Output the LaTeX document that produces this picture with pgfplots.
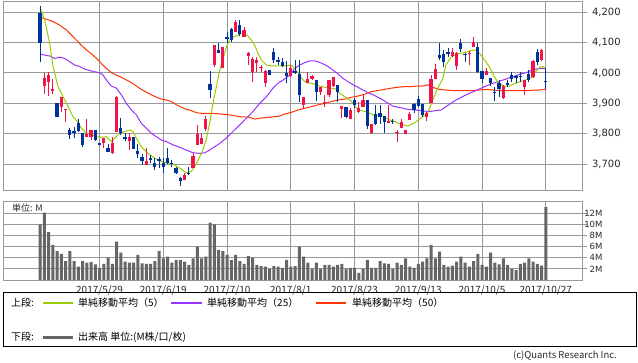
\documentclass[border=0pt]{standalone}
\usepackage{fontspec}
\setmainfont{Noto Sans CJK JP}
\newfontfamily\dejavu{DejaVu Sans}
\usepackage{pgfplots}
\usepackage{pgfplotstable}
\pgfplotsset{compat=1.18}
\definecolor{upred}{RGB}{240,20,75}
\definecolor{downblue}{RGB}{0,51,153}
\definecolor{maG}{RGB}{153,204,0}
\definecolor{maP}{RGB}{153,51,255}
\definecolor{maR}{RGB}{255,51,0}
\definecolor{gridgray}{RGB}{153,153,153}
\definecolor{volgray}{RGB}{102,102,102}
\definecolor{txt}{RGB}{40,40,40}

% up candles: i, body low (open), body high (close), low, high
\pgfplotstableread{
i lo hi l h
1 3957 3982 3931 4001
2 3971 3993 3925 4004
3 3940 3946 3931 3980
5 3889 3920 3873 3922
6 3878 3882 3840 3882
11 3790 3798 3788 3848
12 3790 3812 3779 3812
15 3768 3785 3752 3785
17 3735 3768 3733 3790
18 3807 3920 3807 3924
21 3777 3790 3746 3803
25 3697 3710 3697 3752
34 3647 3664 3647 3671
36 3688 3726 3686 3735
37 3763 3799 3763 3827
38 3766 3787 3766 3801
39 3814 3848 3810 3858
41 4026 4092 4021 4092
43 4015 4087 4015 4087
46 4136 4167 4136 4173
48 4120 4140 4120 4153
49 4056 4065 4026 4070
50 4004 4045 3971 4052
51 4032 4043 4004 4054
52 4015 4021 4004 4026
53 3968 4008 3953 4010
59 3990 4015 3988 4026
62 3895 3920 3880 3922
63 3966 3979 3966 4004
64 3980 3991 3977 3993
66 3938 3953 3927 3953
67 3900 3905 3889 3927
68 3927 3977 3922 3977
69 3957 3986 3955 3986
71 3880 3891 3851 3891
73 3848 3878 3848 3884
75 3873 3884 3867 3905
76 3889 3911 3889 3927
78 3803 3832 3798 3832
82 3836 3843 3834 3895
84 3801 3806 3774 3812
85 3818 3840 3818 3847
86 3798 3812 3798 3812
87 3845 3865 3845 3873
91 3854 3867 3843 3873
92 3902 3979 3902 3993
93 3979 4013 3979 4030
97 4056 4070 4054 4081
98 4024 4065 4010 4070
101 4063 4067 4026 4074
102 4087 4103 4087 4117
105 3993 4007 3993 4015
109 3916 3957 3913 3960
114 3953 3977 3927 3977
116 3988 4040 3982 4043
118 4043 4076 4041 4078
}\upcandles

% down candles: i, body low (close), body high (open), low, high
\pgfplotstableread{
i lo hi l h
0 4098 4199 4037 4221
4 3856 3900 3855 3902
7 3796 3812 3784 3818
8 3803 3809 3787 3823
9 3810 3836 3807 3847
10 3763 3801 3757 3803
13 3779 3812 3777 3812
14 3764 3770 3764 3770
16 3741 3752 3741 3766
19 3801 3820 3796 3851
20 3781 3788 3777 3801
22 3751 3790 3751 3790
23 3733 3744 3719 3766
24 3711 3724 3697 3733
26 3713 3720 3702 3730
27 3691 3702 3680 3719
28 3711 3718 3686 3724
29 3689 3702 3669 3719
30 3702 3719 3700 3752
31 3700 3704 3689 3713
32 3669 3686 3667 3691
33 3645 3655 3629 3658
35 3668 3671 3664 3691
40 3944 3964 3919 4007
42 4067 4076 4067 4098
44 4111 4118 4100 4136
45 4109 4144 4103 4147
47 4128 4158 4122 4173
54 3993 4010 3993 4010
55 4043 4070 4032 4081
56 4037 4043 4026 4052
57 4023 4037 4021 4048
58 3990 4001 3966 4040
60 4001 4008 3997 4043
61 3927 3997 3905 4043
65 3938 3977 3909 3977
70 3938 3960 3905 3960
72 3856 3889 3851 3889
74 3895 3911 3884 3916
77 3825 3911 3814 3911
79 3831 3865 3829 3895
80 3856 3867 3832 3895
81 3840 3858 3803 3858
83 3838 3843 3832 3847
88 3878 3898 3867 3902
89 3891 3913 3889 3924
90 3862 3898 3856 3898
94 4048 4059 4043 4100
95 4037 4063 4021 4076
96 4063 4070 4054 4081
99 4078 4098 4070 4111
100 4059 4063 4037 4067
103 4004 4087 4001 4100
104 3981 4008 3968 4008
106 3968 3982 3957 3982
107 3933 3938 3909 3953
108 3946 3968 3922 3977
110 3960 3966 3955 3977
111 3979 3992 3971 4004
112 3982 3990 3966 3993
113 3986 3990 3971 4004
115 3977 3997 3971 4010
117 4037 4070 4026 4078
119 3970 3974 3947 4015
}\downcandles

\pgfplotstableread{
i v
0 10.0
1 12.1
2 8.6
3 6.3
4 5.2
5 4.7
6 3.4
7 5.2
8 3.4
9 2.4
10 3.4
11 3.1
12 3.2
13 2.8
14 2.2
15 2.9
16 4.0
17 2.9
18 6.9
19 4.9
20 3.3
21 3.1
22 3.1
23 4.5
24 3.0
25 2.9
26 2.9
27 3.4
28 5.2
29 3.9
30 4.2
31 3.1
32 3.6
33 3.6
34 3.3
35 2.7
36 3.9
37 6.0
38 3.9
39 4.2
40 10.3
41 10.0
42 5.4
43 5.2
44 4.5
45 3.6
46 4.5
47 3.4
48 2.9
49 4.3
50 4.0
51 2.7
52 2.5
53 2.4
54 2.0
55 2.5
56 2.4
57 2.2
58 3.6
59 2.4
60 2.5
61 6.0
62 4.2
63 3.1
64 2.0
65 3.1
66 2.0
67 2.7
68 2.7
69 2.4
70 2.7
71 2.9
72 2.0
73 2.2
74 2.2
75 1.3
76 2.0
77 3.6
78 2.2
79 2.2
80 3.4
81 3.0
82 2.9
83 2.0
84 3.1
85 2.7
86 3.9
87 2.4
88 2.2
89 2.9
90 3.3
91 3.9
92 6.3
93 3.9
94 5.1
95 2.7
96 2.4
97 2.6
98 3.3
99 4.2
100 3.1
101 2.4
102 3.4
103 4.7
104 2.7
105 2.4
106 4.9
107 3.1
108 2.8
109 3.9
110 2.7
111 2.0
112 1.8
113 2.9
114 3.1
115 3.9
116 3.3
117 2.9
118 2.6
119 13.1
}\volumes

\pgfplotsset{
  chartbase/.style={
    anchor=north west, scale only axis, width=579pt,
    xmin=-8.71, xmax=127.53,
    xtick={14,29,44,59,74,89,104,119},
    grid=major,
    major grid style={gridgray, line width=1pt},
    axis line style={gridgray, line width=1pt},
    xtick style={draw=none},
    ytick pos=right, yticklabel pos=right,
    tick align=outside, major tick length=5pt,
    ytick style={gridgray, line width=1pt},
  },
}

\begin{document}
\begin{tikzpicture}
\path[use as bounding box] (0pt,0pt) rectangle (638pt,-362pt);

% ---------- price panel ----------
\begin{axis}[chartbase,
  at={(3pt,-1pt)}, height=189pt,
  ymin=3614.3, ymax=4237.2,
  ytick={3700,3800,3900,4000,4100,4200},
  xticklabels={},
  yticklabel style={font=\dejavu\fontsize{10}{12}\selectfont, text=txt, anchor=west, xshift=1.5pt},
  /pgf/number format/1000 sep={,},
  /pgf/number format/assume math mode=true,
]
\addplot[maR, line width=1pt, mark=none] coordinates {
(0,4184) (1.5,4177) (3.1,4169) (4.6,4158) (6.2,4142) (7.4,4125) (8.5,4109) (9.7,4092)
(10.9,4076) (12.1,4063) (13.3,4048) (14.4,4032) (15.6,4015) (16.8,4001) (18.0,3993)
(19.1,3986) (20.3,3977) (21.5,3968) (22.7,3957) (23.8,3946) (25.0,3937) (26.2,3928)
(27.4,3920) (28.5,3914) (29.7,3911) (30.9,3906) (32.1,3895) (33.3,3887) (34.4,3880)
(35.6,3876) (36.8,3869) (38.0,3867) (39.1,3867) (40.7,3867) (42.3,3865) (44.6,3862)
(47.0,3856) (49.3,3854) (50.5,3848) (51.7,3851) (54.0,3854) (56.4,3858) (57.6,3865)
(59.1,3870) (60.7,3878) (62.3,3884) (63.9,3889) (65.4,3895) (67.0,3900) (68.6,3906)
(70.1,3911) (71.7,3914) (73.3,3920) (74.8,3924) (76.4,3930) (78.0,3939) (79.5,3942)
(81.1,3946) (82.7,3950) (84.2,3953) (85.8,3955) (87.4,3955) (88.5,3957) (90.0,3957)
(91.2,3961) (92.4,3953) (93.9,3946) (95.5,3944) (97.1,3942) (101.8,3942) (105.0,3946)
(108.1,3942) (114.4,3942) (117.5,3944) (119,3946)
};
\addplot[maP, line width=1pt, mark=none] coordinates {
(0,4062) (1.1,4059) (2.27,4056) (3.45,4048) (4.63,4052) (5.8,4048) (6.98,4037) (8.16,4026)
(9.33,4021) (10.5,4013) (11.69,4008) (12.86,4004) (14.04,4001) (14.82,3993) (15.6,3977)
(16.78,3957) (17.96,3950) (19.14,3928) (20.31,3900) (21.49,3878) (22.67,3862) (23.84,3834)
(25.02,3818) (26.2,3801) (27.37,3790) (28.55,3779) (29.7,3774) (31.3,3763) (32.9,3755)
(34.4,3746) (36.0,3737) (37.6,3735) (38.8,3737) (39.9,3746) (41.1,3757) (42.3,3768)
(43.8,3785) (45.4,3807) (47.0,3829) (48.6,3851) (50.1,3873) (51.7,3900) (53.3,3922)
(54.8,3950) (56.0,3966) (57.2,3977) (58.8,3993) (59.9,4015) (61.1,4026) (62.3,4034)
(63.5,4040) (64.6,4040) (65.4,4037) (66.6,4030) (67.8,4021) (68.9,4010) (70.1,3997)
(71.3,3982) (72.5,3971) (73.7,3961) (74.8,3953) (76.0,3944) (77.2,3935) (78.4,3928)
(79.5,3920) (80.7,3911) (81.9,3900) (83.0,3891) (84.2,3887) (85.4,3884) (86.6,3880)
(87.8,3878) (88.5,3878) (90.0,3875) (91.6,3873) (93.2,3876) (94.4,3878) (95.5,3889)
(96.7,3900) (97.9,3911) (99.1,3920) (100.3,3928) (101.4,3935) (102.6,3942) (103.8,3950)
(105.0,3957) (106.1,3964) (107.3,3969) (108.5,3975) (109.7,3980) (110.8,3986) (112.0,3991)
(113.2,3997) (114.4,4001) (115.5,4008) (116.7,4013) (117.9,4015) (119,4015)
};
\addplot[maG, line width=1pt, mark=none] coordinates {
(0,4216) (1.1,4175) (2.27,4098) (3.06,4021) (4.24,3955) (5.41,3922) (6.59,3889) (7.76,3856)
(8.78,3840) (9.73,3818) (10.9,3801) (12.08,3796) (13.25,3790) (14.43,3788) (15.6,3790)
(16.78,3774) (17.57,3785) (18.75,3801) (19.92,3807) (21.1,3812) (21.88,3807) (22.67,3785)
(23.84,3757) (25.41,3735) (26.98,3719) (28.55,3708) (31.3,3700) (32.9,3686) (34.4,3671)
(35.6,3675) (36.8,3702) (38,3735) (39.1,3779) (39.9,3834) (40.7,3900) (41.5,3955)
(42.3,4010) (43.1,4048) (43.9,4087) (44.6,4109) (45.4,4118) (46.6,4125) (47.8,4133)
(48.7,4125) (49.7,4109) (50.5,4092) (51.3,4065) (52.1,4043) (53.3,4026) (54.4,4023)
(56,4023) (57.6,4023) (59,4026) (59.9,4015) (60.7,3999) (61.9,3977) (62.7,3968)
(63.9,3966) (65,3961) (65.8,3957) (67,3953) (68.6,3950) (69.8,3946) (70.5,3933)
(71.7,3922) (72.9,3911) (73.7,3900) (74.5,3884) (75.2,3878) (76.4,3873) (77.6,3867)
(78.4,3862) (79.5,3858) (80.3,3862) (81.1,3854) (82.3,3845) (83.5,3840) (84.6,3832)
(85.4,3829) (86.6,3825) (87.8,3834) (88.2,3836) (90,3856) (91.2,3867) (92.4,3911)
(93.6,3950) (94.8,3982) (95.5,4026) (96.7,4052) (98.3,4063) (99.9,4067) (101.4,4074)
(102.6,4076) (103.4,4065) (104.6,4043) (105.7,4021) (106.9,3988) (107.7,3971) (108.9,3957)
(110.4,3957) (111.8,3966) (113.6,3974) (114.7,3979) (115.8,3986) (116.6,4004) (117.5,4018)
(118.3,4021) (119,4015)
};
% wicks
\addplot[only marks, mark=*, mark size=0pt, mark options={draw=none, fill=none},
  error bars/.cd, y dir=plus, y explicit, error mark=none,
  error bar style={draw=downblue, line width=1pt}]
  table[x=i, y=l, y error plus expr=\thisrow{h}-\thisrow{l}] {\downcandles};
\addplot[only marks, mark=*, mark size=0pt, mark options={draw=none, fill=none},
  error bars/.cd, y dir=plus, y explicit, error mark=none,
  error bar style={draw=upred, line width=1pt}]
  table[x=i, y=l, y error plus expr=\thisrow{h}-\thisrow{l}] {\upcandles};
% bodies
\addplot[only marks, mark=*, mark size=0pt, mark options={draw=none, fill=none},
  error bars/.cd, y dir=plus, y explicit, error mark=none,
  error bar style={draw=downblue, line width=3.2pt}]
  table[x=i, y=lo, y error plus expr=\thisrow{hi}-\thisrow{lo}] {\downcandles};
\addplot[only marks, mark=*, mark size=0pt, mark options={draw=none, fill=none},
  error bars/.cd, y dir=plus, y explicit, error mark=none,
  error bar style={draw=upred, line width=3.2pt}]
  table[x=i, y=lo, y error plus expr=\thisrow{hi}-\thisrow{lo}] {\upcandles};
\end{axis}

% ---------- volume panel ----------
\begin{axis}[chartbase,
  at={(3pt,-201pt)}, height=79pt,
  ymin=0, ymax=14.19,
  ytick={2,4,6,8,10,12},
  yticklabels={2M,4M,6M,8M,10M,12M},
  xticklabels={2017/5/29,2017/6/19,2017/7/10,2017/8/1,2017/8/23,2017/9/13,2017/10/5,2017/10/27},
  xticklabel style={font=\fontsize{10}{12}\selectfont, text=txt, yshift=3pt},
  yticklabel style={font=\dejavu\fontsize{8.5}{10}\selectfont, text=txt, anchor=east, xshift=19pt},
]
\addplot[ybar, bar width=3pt, fill=volgray, draw=none] table[x=i, y=v] {\volumes};
\end{axis}

\node[anchor=base west, inner sep=0pt, font=\fontsize{9}{10}\selectfont, text=txt] at (12pt,-211.5pt) {単位: M};

% ---------- legend ----------
\draw[black, line width=0.8pt] (3pt,-292pt) rectangle (636pt,-346pt);
\node[anchor=west, inner sep=0pt] at (11pt,-303pt) {上段:};
\draw[maG, line width=1.2pt] (43pt,-303pt) -- (73pt,-303pt);
\node[anchor=west, inner sep=0pt] at (78pt,-303pt) {単純移動平均（5）};
\draw[maP, line width=1.2pt] (171pt,-303pt) -- (202pt,-303pt);
\node[anchor=west, inner sep=0pt] at (207pt,-303pt) {単純移動平均（25）};
\draw[maR, line width=1.2pt] (316pt,-303pt) -- (346pt,-303pt);
\node[anchor=west, inner sep=0pt] at (352pt,-303pt) {単純移動平均（50）};
\node[anchor=west, inner sep=0pt] at (11pt,-337pt) {下段:};
\draw[volgray, line width=3pt] (43pt,-337pt) -- (73pt,-337pt);
\node[anchor=west, inner sep=0pt] at (78pt,-337pt) {出来高 単位:(M株/口/枚)};
\node[anchor=east, inner sep=0pt, font=\fontsize{9.5}{11}\selectfont, text=txt] at (617pt,-356pt) {(c)Quants Research Inc.};
\end{tikzpicture}
\end{document}
